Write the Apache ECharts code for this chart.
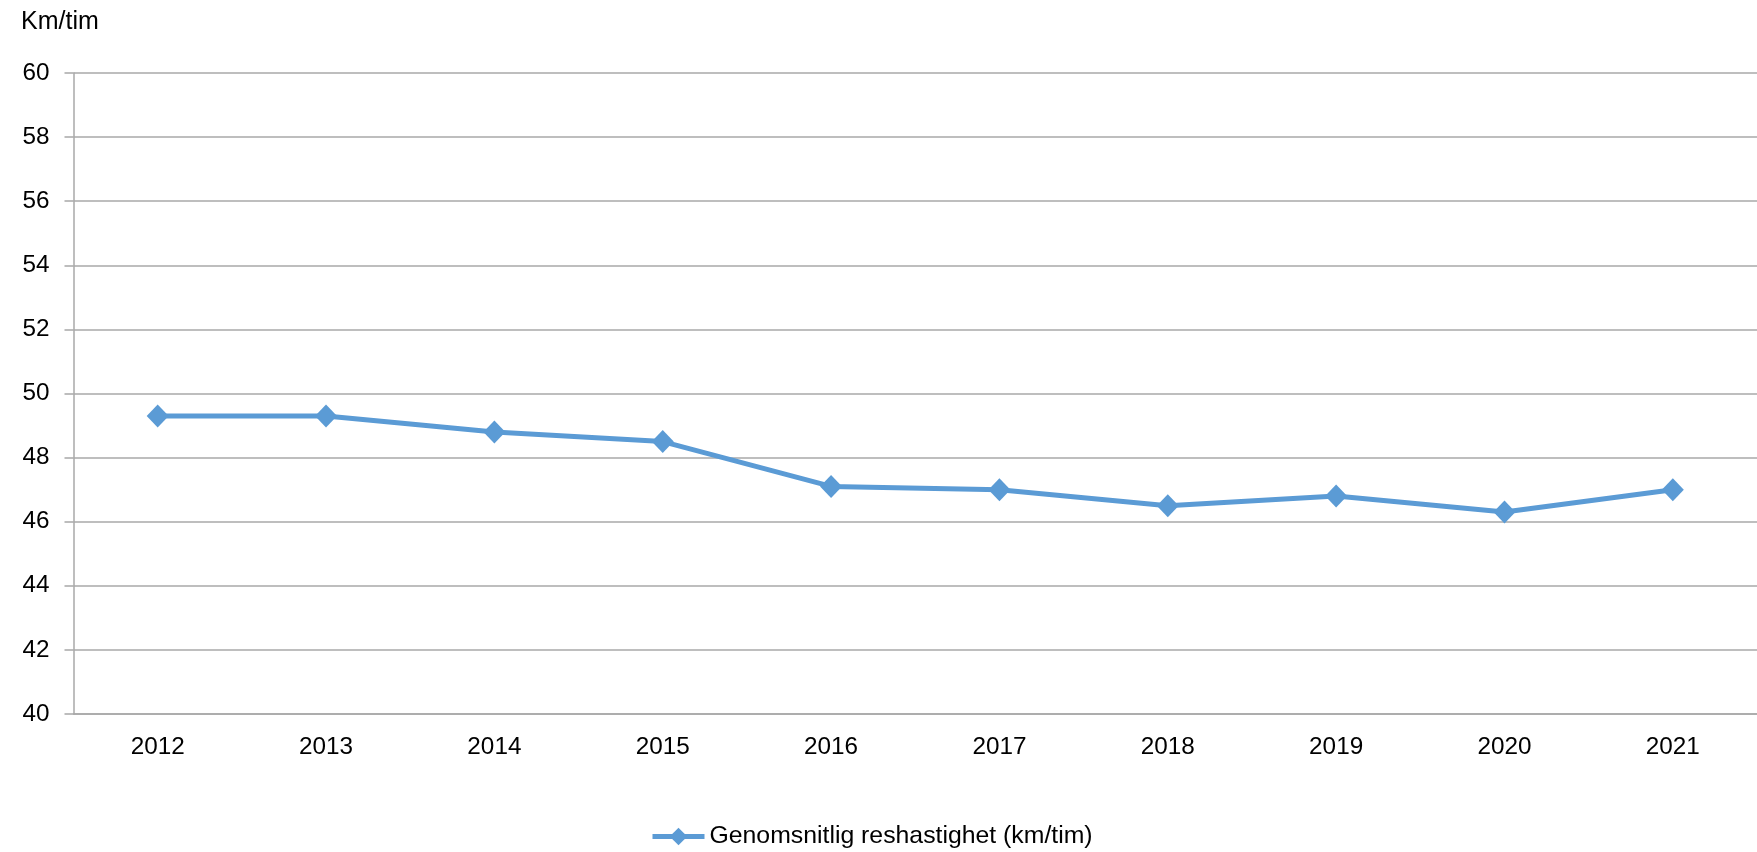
<!DOCTYPE html>
<html>
<head>
<meta charset="utf-8">
<title>Genomsnitlig reshastighet</title>
<script src="https://cdn.jsdelivr.net/npm/echarts@6/dist/echarts.min.js"></script>
<style>
  html, body { margin: 0; padding: 0; background: #ffffff; }
  #chart { width: 1757px; height: 852px; }
</style>
</head>
<body>
<div id="chart"></div>
<script>
// Years on the category axis
const years = ['2012', '2013', '2014', '2015', '2016', '2017', '2018', '2019', '2020', '2021'];
// Average travel speed, km/h
const speed = [49.3, 49.3, 48.8, 48.5, 47.1, 47.0, 46.5, 46.8, 46.3, 47.0];
const seriesName = 'Genomsnitlig reshastighet (km/tim)';
const unitLabel = 'Km/tim';
// Value axis range
const yMin = 40, yMax = 60, yStep = 2;

const FONT = '"Liberation Sans", Arial, sans-serif';
const GRID_COLOR = '#a8a8a8';
const LINE_COLOR = '#5b9bd5';

const chart = echarts.init(document.getElementById('chart'), null, { renderer: 'canvas' });

chart.setOption({
  animation: false,
  backgroundColor: '#ffffff',
  title: {
    text: unitLabel,
    left: 16,
    top: 5,
    textStyle: { fontFamily: FONT, fontSize: 25, fontWeight: 'normal', color: '#000000' }
  },
  grid: { left: 73.5, right: -9, top: 73, bottom: 138, containLabel: false },
  legend: {
    left: 645,
    top: 819,
    itemWidth: 52,
    itemHeight: 22,
    itemGap: 5,
    lineStyle: { width: 5 },
    textStyle: { fontFamily: FONT, fontSize: 24.8, color: '#000000' },
    data: [seriesName]
  },
  xAxis: {
    type: 'category',
    data: years,
    boundaryGap: true,
    axisLine: { show: true, lineStyle: { color: GRID_COLOR, width: 1.5 } },
    axisTick: { show: false },
    axisLabel: { fontFamily: FONT, fontSize: 24.3, color: '#000000', margin: 21 },
    splitLine: { show: false }
  },
  yAxis: {
    type: 'value',
    min: yMin,
    max: yMax,
    interval: yStep,
    axisLine: { show: true, lineStyle: { color: GRID_COLOR, width: 1.5 } },
    axisTick: { show: true, length: 9, lineStyle: { color: GRID_COLOR, width: 1.5 } },
    axisLabel: { fontFamily: FONT, fontSize: 24.3, color: '#000000', margin: 24 },
    splitLine: { show: true, lineStyle: { color: GRID_COLOR, width: 1.5 } }
  },
  series: [{
    name: seriesName,
    type: 'line',
    data: speed,
    symbol: 'diamond',
    symbolSize: [22, 23],
    showSymbol: true,
    lineStyle: { color: LINE_COLOR, width: 5 },
    itemStyle: { color: LINE_COLOR, borderWidth: 0 },
    emphasis: { disabled: true }
  }]
});
</script>
</body>
</html>
